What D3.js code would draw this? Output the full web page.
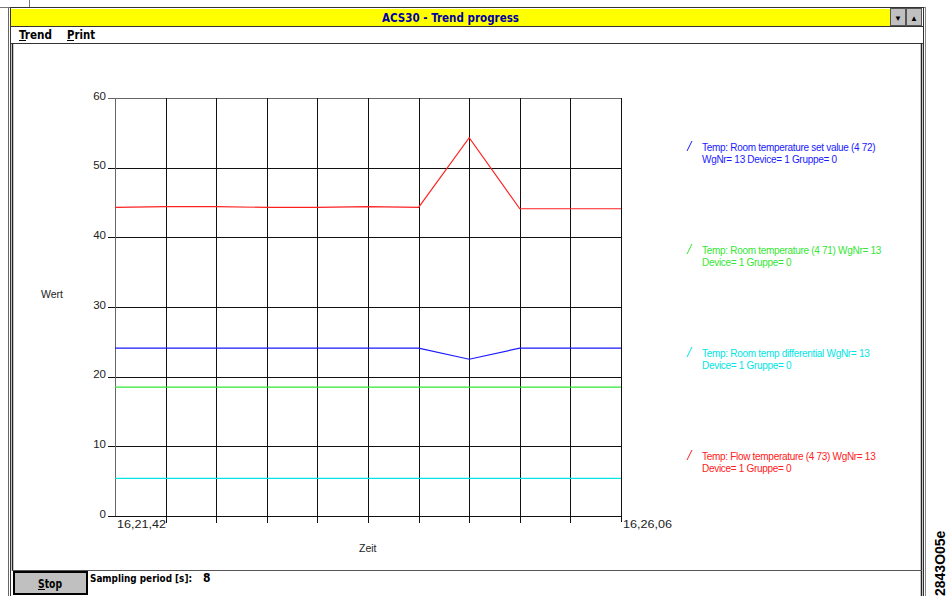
<!DOCTYPE html>
<html>
<head>
<meta charset="utf-8">
<script src="https://cdn.jsdelivr.net/npm/d3@7"></script>
<style>
html,body{margin:0;padding:0;background:#fff;overflow:hidden}
svg{display:block}
</style>
</head>
<body>
<svg id="c" width="948" height="596"></svg>
<script>
// ---- data ----
const sampleIndex = [0,1,2,3,4,5,6,7,8,9,10];
const timeLabels = ["16,21,42","16,26,06"];
const yTicks = [0,10,20,30,40,50,60];
const seriesNames = [
  ["Temp: Room temperature set value (4 72)","WgNr= 13 Device= 1 Gruppe= 0"],
  ["Temp: Room temperature (4 71) WgNr= 13","Device= 1 Gruppe= 0"],
  ["Temp: Room temp differential WgNr= 13","Device= 1 Gruppe= 0"],
  ["Temp: Flow temperature (4 73) WgNr= 13","Device= 1 Gruppe= 0"]
];
const seriesColors = ["#1a1aff","#33e633","#00e5e5","#ff2020"];
const setValue   = [24.1,24.1,24.1,24.1,24.1,24.1,24.1,22.5,24.1,24.1,24.1];
const roomTemp   = [18.5,18.5,18.5,18.5,18.5,18.5,18.5,18.5,18.5,18.5,18.5];
const differential = [5.4,5.4,5.4,5.4,5.4,5.4,5.4,5.4,5.4,5.4,5.4];
const flowTemp   = [44.3,44.4,44.4,44.3,44.3,44.4,44.3,54.3,44.1,44.1,44.1];
const seriesValues = [setValue, roomTemp, differential, flowTemp];

const svg = d3.select("#c");
const F = "'Liberation Sans', Arial, sans-serif";
const FN = "'Liberation Sans Narrow','DejaVu Sans Condensed','Liberation Sans',sans-serif";

function fitText(sel, len){ return sel.attr("textLength",len).attr("lengthAdjust","spacingAndGlyphs"); }

// ---- window frame ----
svg.append("rect").attr("x",0).attr("y",0).attr("width",948).attr("height",596).attr("fill","#fff");
svg.append("line").attr("x1",0).attr("x2",925).attr("y1",7.5).attr("y2",7.5).attr("stroke","#777");
svg.append("line").attr("x1",29.5).attr("x2",29.5).attr("y1",0).attr("y2",7).attr("stroke","#777");
svg.append("line").attr("x1",8.5).attr("x2",8.5).attr("y1",7).attr("y2",596).attr("stroke","#666");
svg.append("rect").attr("x",10.5).attr("y",7.5).attr("width",913).attr("height",600).attr("fill","none").attr("stroke","#333");
svg.append("line").attr("x1",925.5).attr("x2",925.5).attr("y1",7).attr("y2",596).attr("stroke","#888");
// title bar
svg.append("rect").attr("x",11).attr("y",9).attr("width",879).attr("height",17).attr("fill","#ffff00");
svg.append("line").attr("x1",10).attr("x2",923).attr("y1",26.5).attr("y2",26.5).attr("stroke","#333");
[[890,"▼"],[906,"▲"]].forEach(([bx,s])=>{
  svg.append("rect").attr("x",bx+0.5).attr("y",8.5).attr("width",15).attr("height",17).attr("fill","#c0c0c0").attr("stroke","#555");
  svg.append("text").attr("x",bx+8).attr("y",21).attr("text-anchor","middle").attr("font-size",8).attr("font-family",F).attr("fill","#000").text(s);
});
fitText(svg.append("text").attr("x",382).attr("y",22)
  .attr("font-family",FN).attr("font-weight","bold").attr("font-size",13).attr("fill","#0000a8").text("ACS30 - Trend progress"),137);
// menu bar
svg.append("line").attr("x1",10).attr("x2",923).attr("y1",43.5).attr("y2",43.5).attr("stroke","#333");
[[19,"Trend",33],[67,"Print",28]].forEach(([mx,t,w])=>{
  fitText(svg.append("text").attr("x",mx).attr("y",39).attr("font-family",FN).attr("font-weight","bold").attr("font-size",13).attr("fill","#000").text(t),w);
  svg.append("line").attr("x1",mx).attr("x2",mx+7).attr("y1",40.5).attr("y2",40.5).attr("stroke","#000");
});
// client border
svg.append("line").attr("x1",12.5).attr("x2",12.5).attr("y1",44).attr("y2",571).attr("stroke","#222").attr("stroke-width",1.5);
svg.append("line").attr("x1",921.5).attr("x2",921.5).attr("y1",44).attr("y2",596).attr("stroke","#222").attr("stroke-width",1.5);
svg.append("line").attr("x1",12).attr("x2",922).attr("y1",570.5).attr("y2",570.5).attr("stroke","#555");

// ---- chart ----
const x = d3.scaleLinear().domain([0,10]).range([115,621]);
const y = d3.scaleLinear().domain([0,60]).range([516,98]);

const g = svg.append("g");
g.selectAll(".hg").data(yTicks).join("line")
  .attr("x1",108).attr("x2",621)
  .attr("y1",d=>Math.round(y(d))+0.5).attr("y2",d=>Math.round(y(d))+0.5)
  .attr("stroke",d=>d===60?"#666":"#111").attr("stroke-width",1);
g.selectAll(".vg").data(sampleIndex).join("line")
  .attr("x1",d=>Math.round(x(d))+0.5).attr("x2",d=>Math.round(x(d))+0.5)
  .attr("y1",98).attr("y2",d=>d===0?516:(d===10?522:523))
  .attr("stroke",d=>d===0?"#666":"#111").attr("stroke-width",1);

const yAxis = d3.axisLeft(y).tickValues(yTicks).tickSize(0).tickPadding(0).tickFormat(d3.format("d"));
const ya = svg.append("g").attr("transform","translate(106,0)").call(yAxis);
ya.select(".domain").remove();
ya.selectAll("text").attr("font-family",F).attr("font-size",11.5).attr("fill","#222").attr("dy","0.1em");

const xl = [[0,timeLabels[0]],[10,timeLabels[1]]];
svg.selectAll(".xl").data(xl).join("text")
  .attr("x",d=>x(d[0])+2).attr("y",528).attr("font-family",F).attr("font-size",11).attr("fill","#222")
  .attr("textLength",49).attr("lengthAdjust","spacingAndGlyphs").text(d=>d[1]);

svg.append("text").attr("x",41).attr("y",298).attr("font-family",F).attr("font-size",10.5).attr("fill","#222").text("Wert");
svg.append("text").attr("x",359).attr("y",552).attr("font-family",F).attr("font-size",10.5).attr("fill","#222").text("Zeit");

const line = d3.line().x((d,i)=>x(sampleIndex[i])).y(d=>y(d));
seriesValues.forEach((vals,i)=>{
  svg.append("path").datum(vals).attr("d",line).attr("fill","none")
    .attr("stroke",seriesColors[i]).attr("stroke-width",1.2);
});

// legend
const legY = [147,250,353,456];
seriesNames.forEach((lines,i)=>{
  const lg = svg.append("g").attr("fill",seriesColors[i]);
  svg.append("line").attr("x1",687).attr("y1",legY[i]+4).attr("x2",692).attr("y2",legY[i]-6)
    .attr("stroke",seriesColors[i]).attr("stroke-width",1);
  lines.forEach((t,j)=>{
    lg.append("text").attr("x",702).attr("y",legY[i]+12*j+4).attr("font-family",F).attr("font-size",10)
      .attr("letter-spacing","-0.3").text(t);
  });
});

// ---- status bar ----
svg.append("rect").attr("x",14).attr("y",572).attr("width",73).attr("height",22).attr("fill","#c0c0c0").attr("stroke","#000").attr("stroke-width",2);
fitText(svg.append("text").attr("x",38).attr("y",588).attr("font-family",FN).attr("font-weight","bold").attr("font-size",12).attr("fill","#000").text("Stop"),24);
svg.append("line").attr("x1",38).attr("x2",45).attr("y1",589.5).attr("y2",589.5).attr("stroke","#000");
fitText(svg.append("text").attr("x",90).attr("y",582).attr("font-family",FN).attr("font-weight","bold").attr("font-size",11).attr("fill","#000").text("Sampling period [s]:"),102);
svg.append("text").attr("x",203).attr("y",582).attr("font-family",FN).attr("font-weight","bold").attr("font-size",12).attr("fill","#000").text("8");

svg.append("text").attr("transform","translate(945,596) rotate(-90)").attr("font-family",F).attr("font-weight","bold").attr("font-size",14).attr("fill","#000").text("2843O05e");
</script>
</body>
</html>
